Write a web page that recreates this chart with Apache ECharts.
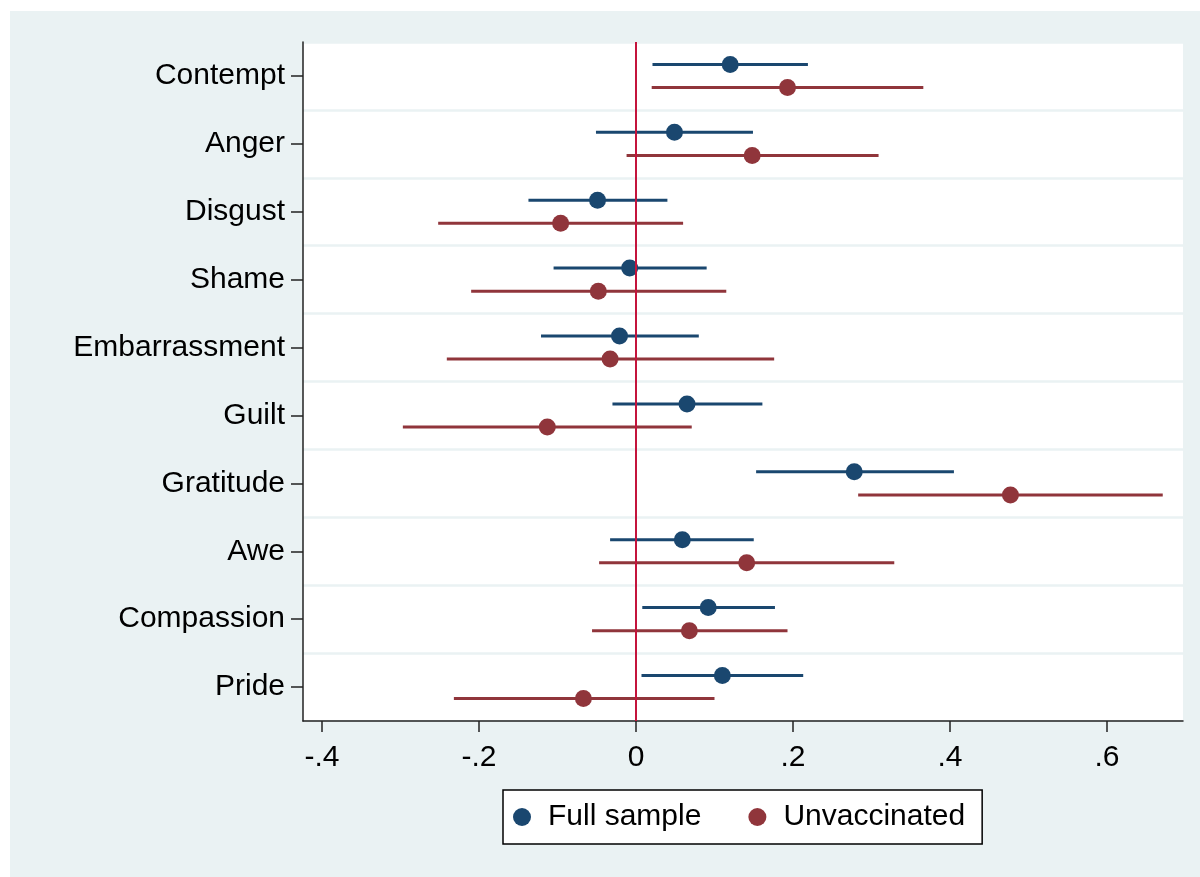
<!DOCTYPE html>
<html>
<head>
<meta charset="utf-8">
<script src="https://cdn.jsdelivr.net/npm/echarts@6/dist/echarts.min.js"></script>
<style>
  html, body { margin: 0; padding: 0; background: #fff; }
  #chart { position: absolute; left: 10px; top: 11px; width: 1190px; height: 866px; }
</style>
</head>
<body>
<div id="chart"></div>
<script>
// emotions, top to bottom
var emotions = ['Contempt', 'Anger', 'Disgust', 'Shame', 'Embarrassment', 'Guilt', 'Gratitude', 'Awe', 'Compassion', 'Pride'];

// full sample: point estimate and 95% CI
var fullEst = [0.120, 0.049, -0.049, -0.008, -0.021, 0.065, 0.278, 0.059, 0.092, 0.110];
var fullLow = [0.021, -0.051, -0.137, -0.105, -0.121, -0.030, 0.153, -0.033, 0.008, 0.007];
var fullHigh = [0.219, 0.149, 0.040, 0.090, 0.080, 0.161, 0.405, 0.150, 0.177, 0.213];

// unvaccinated: point estimate and 95% CI
var unvEst = [0.193, 0.148, -0.096, -0.048, -0.033, -0.113, 0.477, 0.141, 0.068, -0.067];
var unvLow = [0.020, -0.012, -0.252, -0.210, -0.241, -0.297, 0.283, -0.047, -0.056, -0.232];
var unvHigh = [0.366, 0.309, 0.060, 0.115, 0.176, 0.071, 0.671, 0.329, 0.193, 0.100];

var xTicks = [-0.4, -0.2, 0, 0.2, 0.4, 0.6];
var refLine = [0];

var FONT = 'Liberation Sans';
var BLUE = '#1a476f';
var RED = '#90353b';

var dom = document.getElementById('chart');
var myChart = echarts.init(dom, null, { renderer: 'canvas' });

function buildData(est, low, high) {
    var res = [];
    for (var i = 0; i < est.length; i++) {
        res.push([low[i], high[i], est[i], i]);
    }
    return res;
}

// draws one CI line + dot, shifted up/down inside the category band
function makeRender(shift, color) {
    return function (params, api) {
        var cat = api.value(3);
        var band = api.size([0, 1])[1];
        var dy = band * shift;
        var a = api.coord([api.value(0), cat]);
        var b = api.coord([api.value(1), cat]);
        var c = api.coord([api.value(2), cat]);
        return {
            type: 'group',
            children: [{
                type: 'line',
                shape: { x1: a[0], y1: a[1] + dy, x2: b[0], y2: b[1] + dy },
                style: { stroke: color, lineWidth: 3 }
            }, {
                type: 'circle',
                shape: { cx: c[0], cy: c[1] + dy, r: 8.5 },
                style: { fill: color }
            }]
        };
    };
}

// vertical reference line over the whole plot height
function renderRef(params, api) {
    var cs = params.coordSys;
    var p = api.coord([api.value(0), 0]);
    return {
        type: 'line',
        shape: { x1: p[0], y1: cs.y, x2: p[0], y2: cs.y + cs.height },
        style: { stroke: '#c4143c', lineWidth: 2 }
    };
}

function fmtTick(v) {
    if (Math.abs(v) < 1e-9) return '0';
    var s = String(Math.abs(Math.round(v * 10) / 10)).replace(/^0/, '');
    return (v < 0 ? '-' : '') + s;
}

var option = {
    backgroundColor: '#eaf2f3',
    animation: false,
    textStyle: { fontFamily: FONT },
    grid: {
        left: 293,
        top: 31,
        right: 17,
        bottom: 156,
        show: true,
        backgroundColor: '#ffffff',
        borderWidth: 0,
        containLabel: false
    },
    legend: {
        data: ['Full sample', 'Unvaccinated'],
        left: 493,
        top: 779,
        icon: 'circle',
        itemWidth: 18,
        itemHeight: 18,
        itemGap: 47,
        padding: [12, 17, 12, 10],
        backgroundColor: '#ffffff',
        borderColor: '#000000',
        borderWidth: 1.5,
        borderRadius: 0,
        textStyle: { fontSize: 30, color: '#000', fontFamily: FONT, padding: [2, 0, 0, 12] }
    },
    xAxis: {
        type: 'value',
        min: -0.4242,
        max: 0.6968,
        axisLine: { show: true, onZero: false, lineStyle: { color: '#222', width: 1.5 } },
        axisTick: { show: true, length: 11, customValues: xTicks, lineStyle: { color: '#222', width: 1.5 } },
        axisLabel: {
            customValues: xTicks,
            formatter: fmtTick,
            fontSize: 30,
            color: '#000',
            margin: 22,
            fontFamily: FONT
        },
        splitLine: { show: false }
    },
    yAxis: {
        type: 'category',
        data: emotions,
        inverse: true,
        boundaryGap: true,
        axisLine: { show: true, onZero: false, lineStyle: { color: '#222', width: 1.5 } },
        axisTick: { show: true, alignWithLabel: true, length: 12, lineStyle: { color: '#222', width: 1.5 } },
        axisLabel: { fontSize: 30, color: '#000', margin: 18, fontFamily: FONT, padding: [3, 0, 0, 0] },
        splitLine: { show: true, lineStyle: { color: '#eaf2f3', width: 2.5 } }
    },
    series: [{
        name: 'Full sample',
        type: 'custom',
        itemStyle: { color: BLUE },
        encode: { x: [0, 1, 2], y: 3 },
        renderItem: makeRender(-0.17, BLUE),
        data: buildData(fullEst, fullLow, fullHigh),
        z: 3
    }, {
        name: 'Unvaccinated',
        type: 'custom',
        itemStyle: { color: RED },
        encode: { x: [0, 1, 2], y: 3 },
        renderItem: makeRender(0.17, RED),
        data: buildData(unvEst, unvLow, unvHigh),
        z: 3
    }, {
        name: 'ref',
        type: 'custom',
        encode: { x: 0, y: 1 },
        renderItem: renderRef,
        data: refLine.map(function (v) { return [v, 0]; }),
        z: 5
    }]
};

myChart.setOption(option);
</script>
</body>
</html>
